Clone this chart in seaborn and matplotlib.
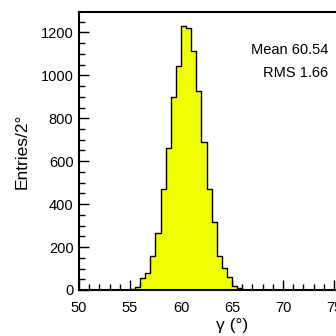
import numpy as np
import pandas as pd
import matplotlib
matplotlib.use("Agg")
import matplotlib.pyplot as plt
import seaborn as sns
from matplotlib.ticker import MultipleLocator

sns.set_style("ticks")
plt.rcParams['font.family'] = ['Liberation Sans', 'DejaVu Sans']
plt.rcParams['text.color'] = 'black'
plt.rcParams['axes.labelcolor'] = 'black'
plt.rcParams['xtick.color'] = 'black'
plt.rcParams['ytick.color'] = 'black'
plt.rcParams['axes.edgecolor'] = 'black'

bin_left = [55.0, 55.5, 56.0, 56.5, 57.0, 57.5, 58.0, 58.5, 59.0, 59.5, 60.0, 60.5,
            61.0, 61.5, 62.0, 62.5, 63.0, 63.5, 64.0, 64.5, 65.0, 65.5, 66.0]
counts = [3, 12, 57, 78, 160, 264, 470, 663, 897, 1043, 1230, 1222,
          1115, 927, 688, 470, 318, 158, 104, 62, 20, 8, 2]
bin_width = 0.5
x_range = (50, 80)
stats_text = ["Mean 60.54", "RMS 1.66"]

df = pd.DataFrame({"gamma": np.array(bin_left) + bin_width / 2,
                   "n": np.array(counts, dtype=float)})

fig = plt.figure(figsize=(3.36, 3.36), dpi=100)
ax = fig.add_axes([0.235, 0.137, 0.911, 0.826])

sns.histplot(data=df, x="gamma", weights="n", binwidth=bin_width,
             binrange=x_range, element="step", fill=True,
             color="#f0ff00", alpha=1.0, edgecolor="black", linewidth=1.0, ax=ax)

ax.set_xlim(*x_range)
ax.set_ylim(0, 1293)
ax.xaxis.set_major_locator(MultipleLocator(5))
ax.xaxis.set_minor_locator(MultipleLocator(1))
ax.yaxis.set_major_locator(MultipleLocator(200))
ax.yaxis.set_minor_locator(MultipleLocator(50))
ax.tick_params(which="both", direction="in", width=1.0, labelsize=10.5,
               colors="black")
ax.tick_params(which="major", length=7)
ax.tick_params(which="minor", length=4)
ax.tick_params(axis="x", pad=8)
ax.tick_params(axis="y", pad=4)
for s in ["left", "top", "bottom"]:
    ax.spines[s].set_linewidth(1.5)
ax.spines["right"].set_visible(False)

ax.set_xlabel("γ (°)", fontsize=12.5, labelpad=2)
ax.set_ylabel("Entries/2°", fontsize=12.5, labelpad=8)

fig.text(328 / 336, 1 - 50 / 336, stats_text[0], ha="right", va="center", fontsize=10.5)
fig.text(328 / 336, 1 - 73 / 336, stats_text[1], ha="right", va="center", fontsize=10.5)

fig.savefig("out.png", dpi=100)
